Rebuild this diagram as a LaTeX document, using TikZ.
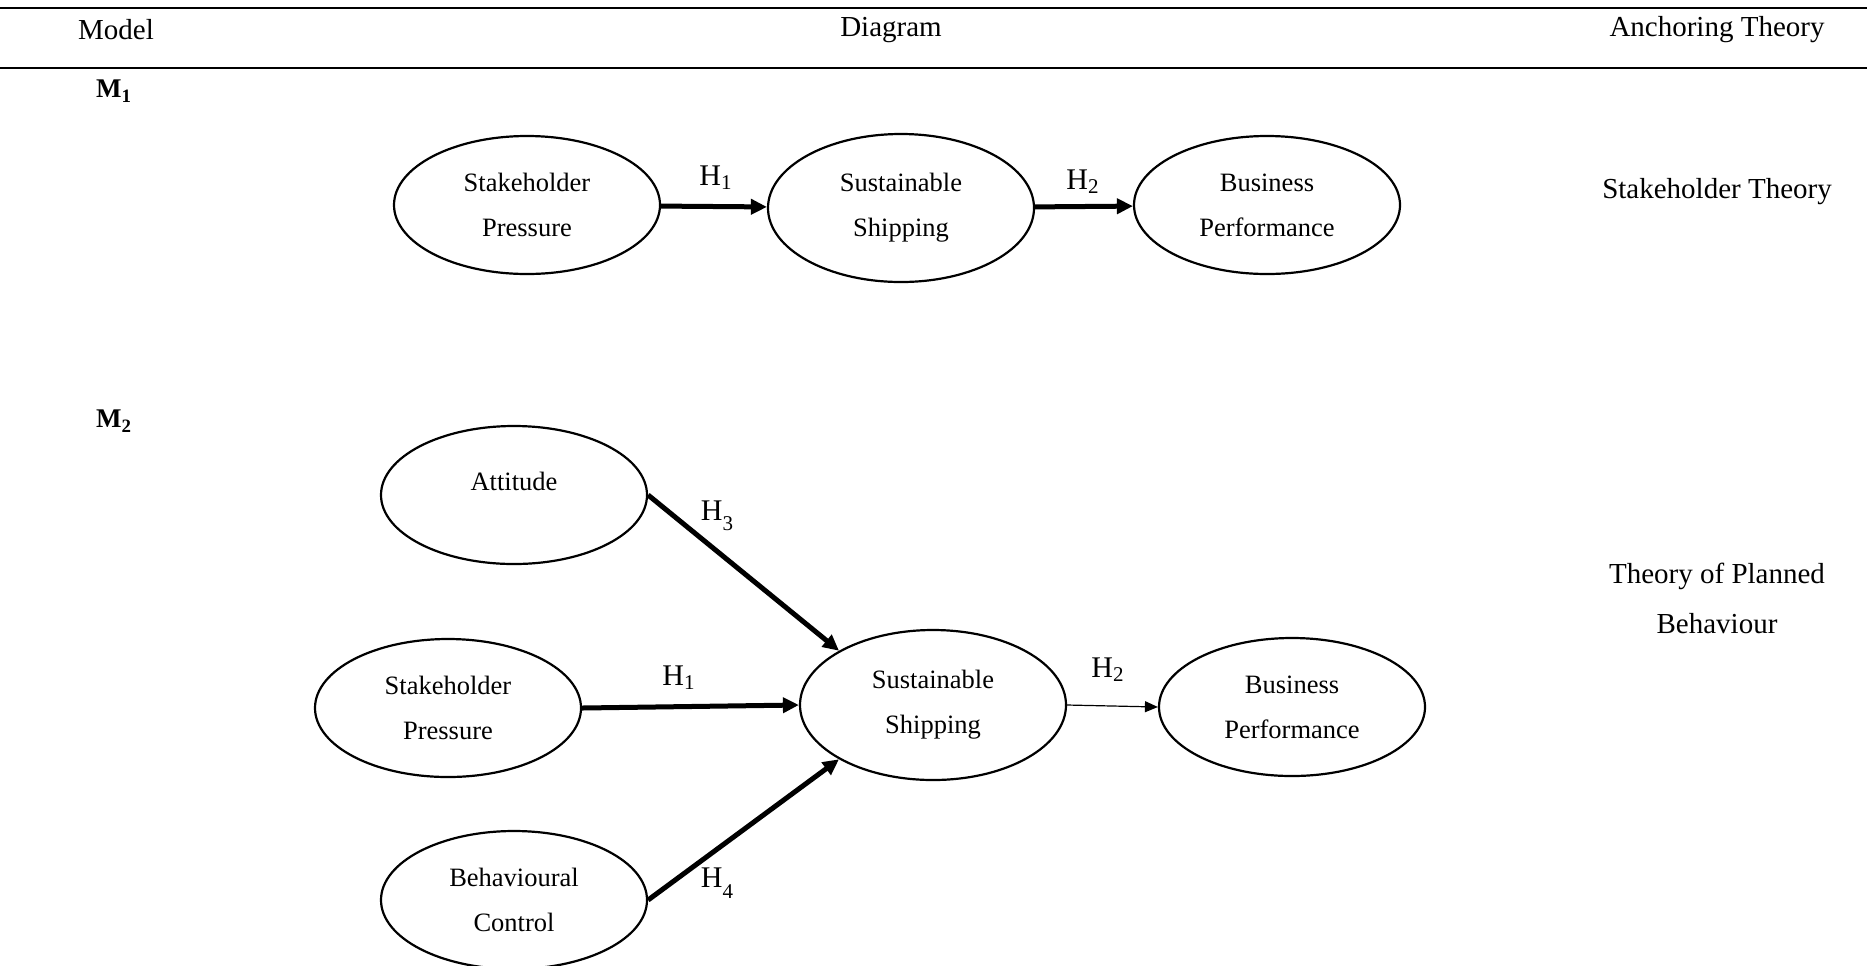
\documentclass[tikz,border=0pt]{standalone}
\usepackage{fontspec}
\setmainfont{Liberation Serif}
\usetikzlibrary{shapes.geometric,arrows.meta}
\newcommand{\lowsub}[1]{\raisebox{-0.75ex}{\fontsize{10.5}{10}\selectfont #1}}
\begin{document}
\begin{tikzpicture}[x=0.5pt,y=-0.5pt,
  latent/.style={ellipse,draw,line width=1.1pt,minimum width=133pt,minimum height=69pt,inner sep=0pt,align=center,font=\fontsize{13.25}{22.5}\selectfont},
  bigarrow/.style={line width=2.5pt,-{Triangle[length=8pt,width=7.5pt]}},
  thinarrow/.style={line width=0.6pt,-{Triangle[length=6.5pt,width=5.5pt]}},
  hlab/.style={font=\fontsize{15}{17}\selectfont},
  head/.style={font=\fontsize{14.5}{17}\selectfont},
  theory/.style={align=center,font=\fontsize{14.5}{25}\selectfont},
  mlab/.style={font=\bfseries\fontsize{13.5}{16}\selectfont},
]
\useasboundingbox (0,0) rectangle (1867,965);
% table rules
\draw[line width=1pt] (0,8) -- (1867,8);
\draw[line width=0.8pt] (0,68) -- (1867,68);
% header
\node[head] (hmodel) at (116,30) {Model};
\node[head] (hdiag) at (891,30) {Diagram};
\node[head] (hanch) at (1717,30) {Anchoring Theory};
% model labels
\node[mlab] (m1) at (114,91) {M\textsubscript{1}};
\node[mlab] (m2) at (114,421) {M\textsubscript{2}};
% M1
\node[latent] (sp1) at (527,205) {Stakeholder\\Pressure};
\node[latent,minimum height=74pt] (ss1) at (901,208) {Sustainable\\Shipping};
\node[latent] (bp1) at (1267,205) {Business\\Performance};
\draw[bigarrow] (sp1) -- (ss1);
\draw[bigarrow] (ss1) -- (bp1);
\node[hlab] (h1a) at (716,178) {H\textsubscript{1}};
\node[hlab] (h2a) at (1083,182) {H\textsubscript{2}};
\node[theory] (th1) at (1717,192) {Stakeholder Theory};
% M2
\node[latent,label={[font=\fontsize{13.25}{22.5}\selectfont,yshift=7pt]center:Attitude}] (att) at (514,495) {};
\node[latent] (sp2) at (448,708) {Stakeholder\\Pressure};
\node[latent] (bc) at (514,900) {Behavioural\\Control};
\node[latent,minimum height=75pt] (ss2) at (933,705) {Sustainable\\Shipping};
\node[latent] (bp2) at (1292,707) {Business\\Performance};
\draw[bigarrow] (att.east) -- (ss2.150);
\draw[bigarrow] (sp2.east) -- (ss2.west);
\draw[bigarrow] (bc.east) -- (ss2.210);
\draw[thinarrow] (ss2.east) -- (bp2.west);
\node[hlab] (h3) at (717,516) {H\lowsub{3}};
\node[hlab] (h1b) at (679,678) {H\textsubscript{1}};
\node[hlab] (h4) at (717,883) {H\lowsub{4}};
\node[hlab] (h2b) at (1108,670) {H\textsubscript{2}};
\node[theory] (th2) at (1717,598) {Theory of Planned\\Behaviour};
\end{tikzpicture}
\end{document}
